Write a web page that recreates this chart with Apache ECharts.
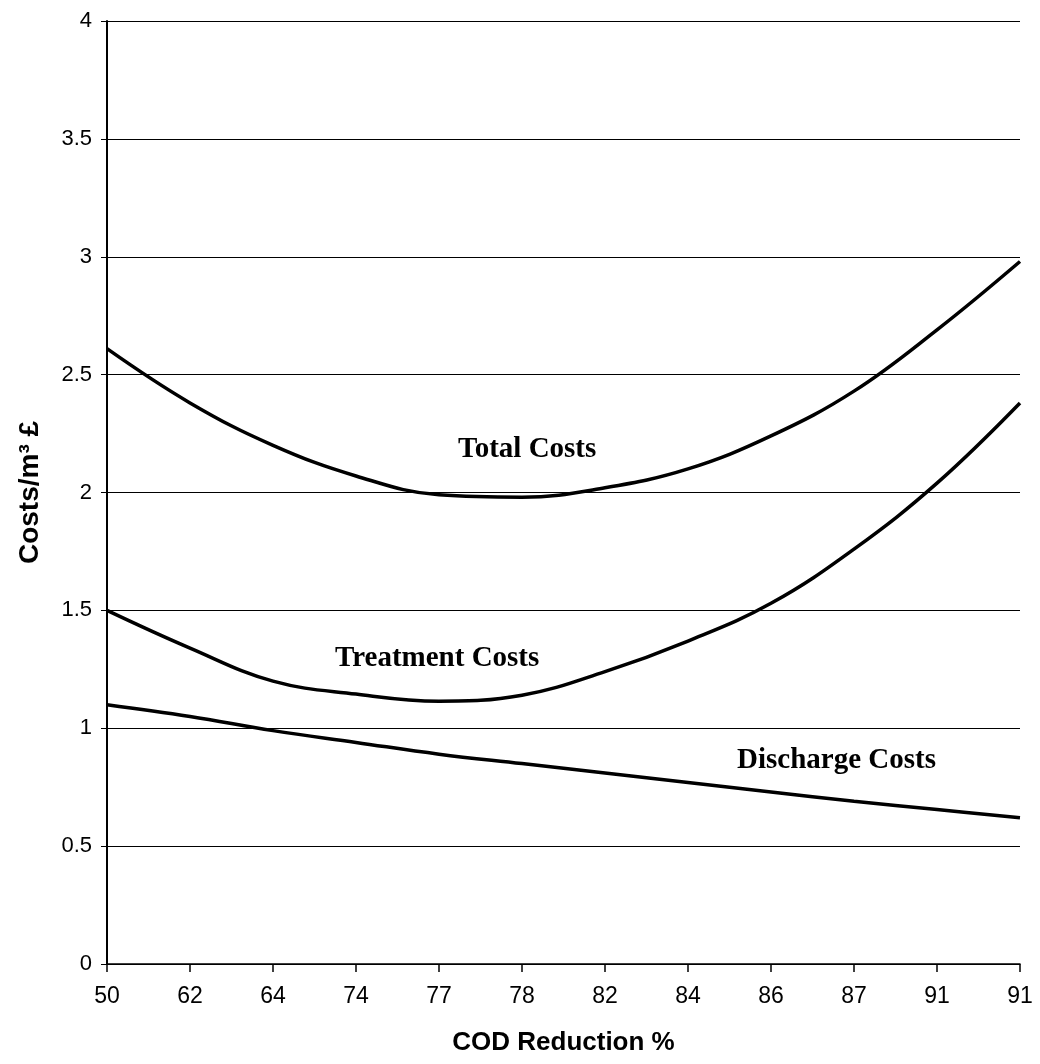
<!DOCTYPE html>
<html>
<head>
<meta charset="utf-8">
<script src="https://cdn.jsdelivr.net/npm/echarts@6/dist/echarts.min.js"></script>
<style>html,body{margin:0;padding:0;background:#fff}#c{width:1040px;height:1064px}</style>
</head>
<body>
<div id="c"></div>
<script>
const categories = ['50','62','64','74','77','78','82','84','86','87','91','91'];
const totalCosts = [2.61, 2.38, 2.20, 2.07, 1.99, 1.98, 2.02, 2.10, 2.24, 2.43, 2.69, 2.98];
const treatmentCosts = [1.50, 1.34, 1.20, 1.145, 1.115, 1.14, 1.24, 1.37, 1.53, 1.76, 2.04, 2.38];
const dischargeCosts = [1.10, 1.05, 0.99, 0.94, 0.89, 0.85, 0.81, 0.77, 0.73, 0.69, 0.655, 0.62];
const seriesNames = ['Total Costs', 'Treatment Costs', 'Discharge Costs'];

const chart = echarts.init(document.getElementById('c'), null, {renderer: 'canvas'});
const lineStyle = {color: '#000', width: 3.5};
const mk = (name, data) => ({
  name, type: 'line', data, smooth: 0.4, symbol: 'none',
  lineStyle, itemStyle: {color: '#000'}, z: 5
});
const annot = (text, x, y) => ({
  type: 'text', x: x, y: y,
  style: {text, font: 'bold 29px "Liberation Serif"', fill: '#000', align: 'left', verticalAlign: 'middle'}
});
chart.setOption({
  animation: false,
  backgroundColor: '#fff',
  grid: {left: 107, right: 20, top: 21, bottom: 100},
  xAxis: {
    type: 'category', data: categories, boundaryGap: false,
    name: 'COD Reduction %', nameLocation: 'middle', nameGap: 66,
    nameTextStyle: {fontFamily: 'Liberation Sans', fontWeight: 'bold', fontSize: 26, color: '#000'},
    axisLine: {lineStyle: {color: '#000', width: 1.5}},
    axisTick: {show: true, length: 8, interval: 0, inside: false, lineStyle: {color: '#000', width: 1.5}},
    axisLabel: {interval: 0, margin: 21, fontFamily: 'Liberation Sans', fontSize: 23, color: '#000'},
    splitLine: {show: false}
  },
  yAxis: {
    type: 'value', min: 0, max: 4, interval: 0.5,
    name: 'Costs/m³ £', nameLocation: 'middle', nameGap: 63, nameRotate: 90,
    nameTextStyle: {fontFamily: 'Liberation Sans', fontWeight: 'bold', fontSize: 28, color: '#000'},
    axisLine: {show: true, lineStyle: {color: '#000', width: 2}},
    axisTick: {show: true, length: 6, lineStyle: {color: '#000', width: 1}},
    axisLabel: {margin: 15, fontFamily: 'Liberation Sans', fontSize: 22, color: '#000'},
    splitLine: {show: true, lineStyle: {color: '#000', width: 1.2}}
  },
  series: [
    mk(seriesNames[0], totalCosts),
    mk(seriesNames[1], treatmentCosts),
    mk(seriesNames[2], dischargeCosts)
  ],
  graphic: [
    annot('Total Costs', 458, 450),
    annot('Treatment Costs', 335, 659),
    annot('Discharge Costs', 737, 761)
  ]
});
</script>
</body>
</html>
